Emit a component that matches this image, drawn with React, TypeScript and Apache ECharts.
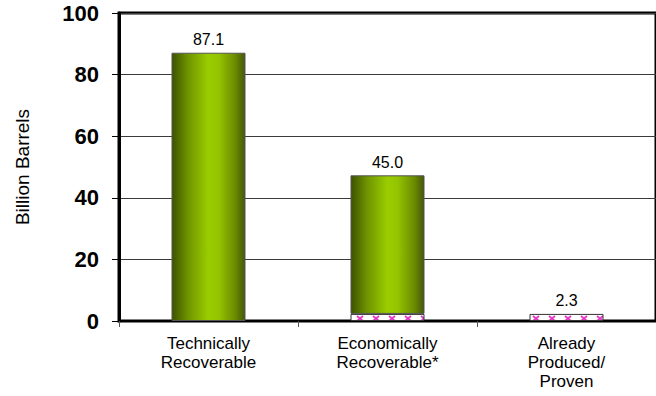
import React, { useEffect, useRef } from "react";
import * as echarts from "echarts";

const categories = ["Technically\nRecoverable", "Economically\nRecoverable*", "Already\nProduced/\nProven"];
const provenValues: (number | null)[] = [null, 2.3, 2.3];
const remainingValues: (number | null)[] = [87.1, 45.0, null];
const yTicks = [0, 20, 40, 60, 80, 100];

const FONT = "'Liberation Sans', Arial, sans-serif";

// small white tile with a pink cross, repeated across the proven segment
function makeCrossPattern() {
  const c = document.createElement("canvas");
  c.width = 16;
  c.height = 7;
  const g = c.getContext("2d");
  if (g) {
    g.fillStyle = "#ffffff";
    g.fillRect(0, 0, 16, 7);
    g.strokeStyle = "#e43cc4";
    g.lineWidth = 1.8;
    g.beginPath();
    g.moveTo(5, 1);
    g.lineTo(11, 6);
    g.moveTo(11, 1);
    g.lineTo(5, 6);
    g.stroke();
  }
  return { image: c, repeat: "repeat", imageWidth: 16, imageHeight: 7 } as any;
}

export default function App() {
  const ref = useRef<HTMLDivElement>(null);

  useEffect(() => {
    if (!ref.current) return;
    const chart = echarts.init(ref.current, undefined, { renderer: "svg" });

    const green = new echarts.graphic.LinearGradient(0, 0, 1, 0, [
      { offset: 0, color: "#3d5200" },
      { offset: 0.22, color: "#6f9400" },
      { offset: 0.5, color: "#9acd00" },
      { offset: 0.64, color: "#94c400" },
      { offset: 0.87, color: "#6a8a00" },
      { offset: 1, color: "#45580a" },
    ]);

    const valueLabel = {
      show: true,
      position: "top",
      distance: 5,
      color: "#000",
      fontFamily: FONT,
      fontSize: 16,
      formatter: (p: any) => Number(p.value).toFixed(1),
    };

    chart.setOption({
      animation: false,
      backgroundColor: "#ffffff",
      grid: {
        left: 119,
        right: -9,
        top: 13,
        bottom: 75,
        show: true,
        borderColor: "#000",
        borderWidth: 3,
      },
      xAxis: {
        type: "category",
        data: categories,
        axisLine: { lineStyle: { color: "#000", width: 2 } },
        axisTick: { show: true, length: 6, lineStyle: { color: "#555", width: 1 } },
        axisLabel: {
          color: "#000",
          fontFamily: FONT,
          fontSize: 17,
          lineHeight: 19,
          margin: 13,
          interval: 0,
        },
      },
      yAxis: {
        type: "value",
        min: 0,
        max: 100,
        interval: 20,
        name: "Billion Barrels",
        nameLocation: "middle",
        nameGap: 87,
        nameRotate: 90,
        nameTextStyle: { color: "#000", fontFamily: FONT, fontSize: 19 },
        axisLine: { show: true, lineStyle: { color: "#000", width: 3 } },
        axisTick: { show: true, length: 7, lineStyle: { color: "#000", width: 1 } },
        axisLabel: {
          color: "#000",
          fontFamily: FONT,
          fontSize: 22,
          fontWeight: "bold",
          margin: 20,
          formatter: (v: number) => (yTicks.includes(v) ? String(v) : ""),
        },
        splitLine: { show: true, lineStyle: { color: "#3a3a3a", width: 1 } },
      },
      series: [
        {
          name: "Already Produced/Proven",
          type: "bar",
          stack: "total",
          barWidth: 74,
          data: provenValues.map((v, i) => ({
            value: v,
            label: i === 2 ? valueLabel : { show: false },
          })),
          itemStyle: {
            color: makeCrossPattern(),
            borderColor: "#333",
            borderWidth: 1,
          },
        },
        {
          name: "Remaining Recoverable",
          type: "bar",
          stack: "total",
          barWidth: 74,
          data: remainingValues.map((v) => ({ value: v })),
          label: valueLabel,
          itemStyle: {
            color: green,
            borderColor: "#555",
            borderWidth: 1,
          },
        },
      ],
    });

    return () => chart.dispose();
  }, []);

  return (
    <div
      ref={ref}
      style={{ position: "fixed", left: 0, top: 0, width: 656, height: 396, background: "#fff" }}
    />
  );
}
